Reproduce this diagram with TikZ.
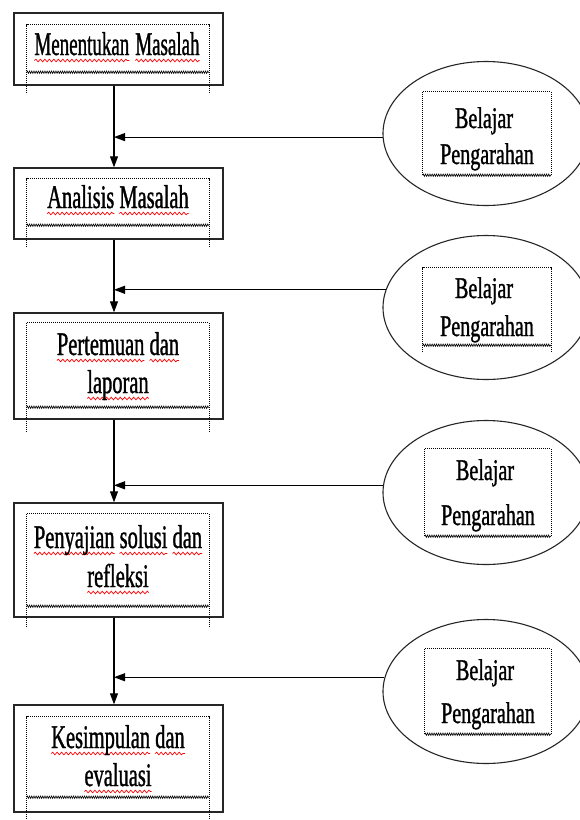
\documentclass[tikz,border=0pt]{standalone}
\usepackage{fontspec}
\usetikzlibrary{arrows.meta,shapes.geometric,decorations.pathmorphing}
\newfontfamily\lfont{Liberation Serif}[FakeStretch=0.62,FakeBold=1]
\newfontfamily\lnfont{Liberation Serif}[FakeStretch=0.575,FakeBold=1]
\newfontfamily\rfont{Liberation Serif}[FakeStretch=0.67,FakeBold=1]
\newsavebox\wbox
\newcommand\rw[1]{\sbox\wbox{#1}\leavevmode\rlap{\tikz[overlay,x=1pt,y=1pt]\draw[red,line width=0.7pt,decorate,decoration={snake,segment length=4.5pt,amplitude=1.3pt}] (0pt,-5.5pt) -- (\wd\wbox,-5.5pt);}\usebox\wbox}
\begin{document}
\begin{tikzpicture}[x=1pt,y=-1pt,
  outerbox/.style={draw=black!85, line width=1.4pt, minimum width=209pt, inner sep=0pt},
  ell/.style={ellipse, draw=black!85, line width=1.1pt, minimum width=206pt, minimum height=144pt, inner sep=0pt},
  frame/.style={draw=none, inner sep=0pt},
  dotline/.style={line width=0.9pt, dash pattern=on 0.9pt off 1.1pt},
  wavy/.style={decorate, decoration={zigzag, segment length=2.2pt, amplitude=1.2pt}, line width=0.6pt},
  arr/.style={-{Triangle[length=11pt,width=8pt]}, line width=1.1pt},
  ltxt/.style={font=\lfont\fontsize{33}{39}\selectfont, anchor=base, inner sep=0pt},
  rtxt/.style={font=\rfont\fontsize{30}{35}\selectfont, anchor=base, inner sep=0pt}]
\useasboundingbox[fill=white] (0,0) rectangle (580,820);
\coordinate (spine) at (114,0);

% left boxes
\node[outerbox, minimum height=72pt] (b1) at (118.5,49) {};
\node[outerbox, minimum height=71pt] (b2) at (118.5,203.5) {};
\node[outerbox, minimum height=106pt] (b3) at (118.5,366) {};
\node[outerbox, minimum height=114pt] (b4) at (118.5,560) {};
\node[outerbox, minimum height=107pt] (b5) at (118.5,758.5) {};

% inner dotted frames (left)
\node[frame, minimum width=182pt, minimum height=47pt] (f1) at (118,48.5) {};
\node[frame, minimum width=182pt, minimum height=46pt] (f2) at (118,202) {};
\node[frame, minimum width=182pt, minimum height=84pt] (f3) at (118,365) {};
\node[frame, minimum width=182pt, minimum height=92pt] (f4) at (118,560) {};
\node[frame, minimum width=182pt, minimum height=80pt] (f5) at (118,757) {};
\foreach \f/\e in {f1/21,f2/22,f3/25,f4/21,f5/26}{
  \draw[dotline] ([yshift=-\e pt]\f.south west) -- (\f.north west) -- (\f.north east) -- ([yshift=-\e pt]\f.south east);
  \draw[wavy] (\f.south west) -- (\f.south east);
}

% ellipses
\node[ell] (e1) at (486,133.5) {};
\node[ell] (e2) at (486,307.5) {};
\node[ell] (e3) at (486,492.5) {};
\node[ell] (e4) at (486,691.5) {};

% inner dotted frames (right)
\node[frame, minimum width=128pt, minimum height=83pt] (g1) at (487,133.5) {};
\node[frame, minimum width=128pt, minimum height=77pt] (g2) at (487,306.5) {};
\node[frame, minimum width=126pt, minimum height=87pt] (g3) at (488,492.5) {};
\node[frame, minimum width=126pt, minimum height=85pt] (g4) at (488,691.5) {};
\foreach \f/\e in {g1/0,g2/7,g3/0,g4/0}{
  \draw[dotline] ([yshift=-\e pt]\f.south west) -- (\f.north west) -- (\f.north east) -- ([yshift=-\e pt]\f.south east);
  \draw[wavy] (\f.south west) -- (\f.south east);
}

% left texts
\node[ltxt, font=\lnfont\fontsize{33}{39}\selectfont] (t1) at (117,55) {\rw{Menentukan}\hspace{6pt}\rw{Masalah}};
\node[ltxt] (t2) at (118,208) {\rw{Analisis} \rw{Masalah}};
\node[ltxt] (t3a) at (118,355) {\rw{Pertemuan} \rw{dan}};
\node[ltxt] (t3b) at (118,393) {\rw{laporan}};
\node[ltxt] (t4a) at (118,548) {\rw{Penyajian} \rw{solusi} \rw{dan}};
\node[ltxt] (t4b) at (118,587) {\rw{refleksi}};
\node[ltxt] (t5a) at (118,748) {\rw{Kesimpulan} \rw{dan}};
\node[ltxt] (t5b) at (118,786) {\rw{evaluasi}};

% right texts
\node[rtxt] (r1a) at (484,128) {Belajar};
\node[rtxt] (r1b) at (487,164) {Pengarahan};
\node[rtxt] (r2a) at (484,298) {Belajar};
\node[rtxt] (r2b) at (487,336) {Pengarahan};
\node[rtxt] (r3a) at (485,480) {Belajar};
\node[rtxt] (r3b) at (488,525) {Pengarahan};
\node[rtxt] (r4a) at (485,680) {Belajar};
\node[rtxt] (r4b) at (488,723) {Pengarahan};

% vertical connectors
\draw[arr] (b1.south -| spine) -- (b2.north -| spine);
\draw[arr] (b2.south -| spine) -- (b3.north -| spine);
\draw[arr] (b3.south -| spine) -- (b4.north -| spine);
\draw[arr] (b4.south -| spine) -- (b5.north -| spine);

% horizontal connectors
\draw[arr] (e1.182) -- (e1.182 -| spine);
\draw[arr] (e2.170) -- (e2.170 -| spine);
\draw[arr] (e3.176) -- (e3.176 -| spine);
\draw[arr] (e4.172) -- (e4.172 -| spine);
\end{tikzpicture}
\end{document}
